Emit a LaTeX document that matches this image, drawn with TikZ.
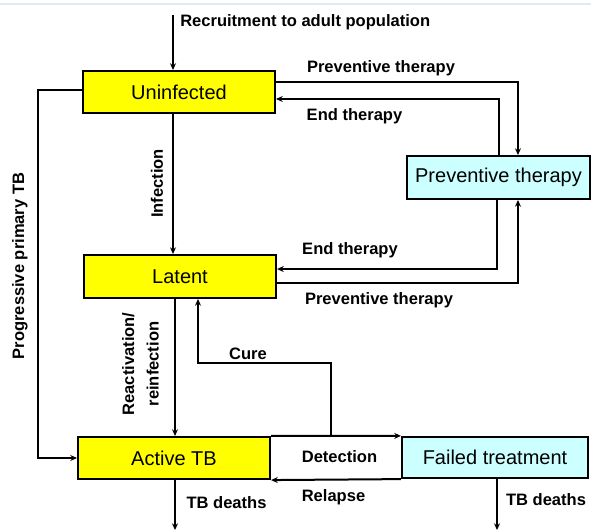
\documentclass[tikz,border=0pt]{standalone}
\usepackage{fontspec}
\setmainfont{Liberation Sans}
\usetikzlibrary{arrows.meta}
\definecolor{boxyellow}{RGB}{255,255,0}
\definecolor{boxcyan}{RGB}{204,255,255}
\definecolor{topline}{RGB}{222,234,250}
\tikzset{
  statebox/.style={draw=black, line width=1.6pt, inner sep=0pt, font=\fontsize{15}{18}\selectfont},
  ybox/.style={statebox, fill=boxyellow},
  cbox/.style={statebox, fill=boxcyan},
  flow/.style={line width=1.5pt, -{Stealth[length=5pt,width=4.5pt]}},
  lbl/.style={font=\bfseries\fontsize{12.4}{18.5}\selectfont, inner sep=0pt}
}
\begin{document}
\begin{tikzpicture}[x=0.75pt,y=-0.75pt]
\useasboundingbox (0,0) rectangle (591,531);
\fill[white] (0,0) rectangle (591,531);
\draw[topline, line width=0.8pt] (0,4) -- (591,4);

% boxes
\node[ybox, minimum width=144pt, minimum height=31.5pt] (U) at (179,92) {Uninfected};
\node[cbox, minimum width=137pt, minimum height=32.2pt] (P) at (498.5,177.5) {Preventive therapy};
\node[ybox, minimum width=144pt, minimum height=32.2pt] (L) at (180,276.5) {Latent};
\node[ybox, minimum width=144pt, minimum height=31.5pt] (A) at (174,458) {Active TB};
\node[cbox, minimum width=139.5pt, minimum height=30.8pt] (F) at (495,457.5) {Failed treatment};

% coordinates for free ends
\coordinate (rec) at (173,15);
\coordinate (cure0) at (331,437);
\coordinate (d1) at (175,530);
\coordinate (d2) at (497,530);

% connectors
\draw[flow] (rec) -- (rec |- U.north);
\draw[flow] ([yshift=7.5pt]U.east) -| ([xshift=14.6pt]P.north);
\draw[flow] (P.north) |- ([yshift=-5.25pt]U.east);
\draw[flow] ([xshift=-1pt]P.south) |- ([yshift=5.6pt]L.east);
\draw[flow] ([yshift=-4.9pt]L.east) -| ([xshift=14.6pt]P.south);
\draw[flow] ([xshift=-4.5pt]U.south) -- ([xshift=-4.5pt]U.south |- L.north);
\draw[flow] ([xshift=-3.75pt]L.south) -- ([xshift=-3.75pt]L.south |- A.north);
\draw[flow] ([yshift=1.5pt]U.west) -- ++(-44,0) |- (A.west);
\draw[flow] (A.north east) -- (F.north west);
\draw[flow] (F.south west) -- (A.south east);
\draw[flow] (cure0) -- (331,363) -| ([xshift=13.5pt]L.south);
\draw[flow] (d1 |- A.south) -- (d1);
\draw[flow] (d2 |- F.south) -- (d2);

% labels
\node[lbl, anchor=west] (trec) at (180,22) {Recruitment to adult population};
\node[lbl] (tpt1) at (381,68) {Preventive therapy};
\node[lbl] (tet1) at (354.5,116) {End therapy};
\node[lbl] (tet2) at (350,250) {End therapy};
\node[lbl] (tpt2) at (379,300) {Preventive therapy};
\node[lbl, rotate=90] (tinf) at (157,183.5) {Infection};
\node[lbl, rotate=90] (tprog) at (20,266) {Progressive primary TB};
\node[lbl, rotate=90, align=center] (treac) at (140.5,364) {Reactivation/\\reinfection};
\node[lbl] (tcure) at (248,354) {Cure};
\node[lbl] (tdet) at (339.5,457) {Detection};
\node[lbl] (trel) at (333.5,497) {Relapse};
\node[lbl] (tdth1) at (226.5,503) {TB deaths};
\node[lbl] (tdth2) at (546,500) {TB deaths};
\end{tikzpicture}
\end{document}
